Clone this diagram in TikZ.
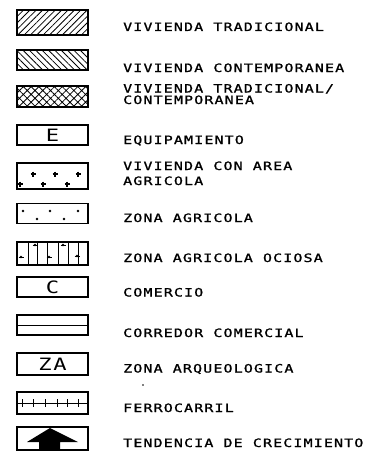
\documentclass[tikz,border=0pt]{standalone}
\usepackage{fontspec}
\usetikzlibrary{patterns.meta}
\newfontfamily\plotfont[FakeStretch=1.3,LetterSpace=10,FakeBold=1.2]{DejaVu Sans Mono}
\newfontfamily\plotbig[FakeStretch=1.3,LetterSpace=10]{DejaVu Sans Mono}

\begin{document}
\begin{tikzpicture}[x=1pt,y=-1pt,
    box/.style={draw,line width=1.1pt,minimum width=71pt,inner sep=0pt},
    lbl/.style={anchor=base west,inner sep=0pt,font=\plotfont\fontsize{11.5}{11.5}\selectfont},
    big/.style={font=\plotbig\fontsize{17}{17}\selectfont}]
    \useasboundingbox (0,0) rectangle (378,460);
    % legend boxes
    \node[box,minimum height=25pt,pattern={Lines[angle=45,distance=4.5pt,line width=0.8pt]}] (trad) at (52.5,22.5) {};
    \node[box,minimum height=20pt,pattern={Lines[angle=-45,distance=4.5pt,line width=0.8pt]}] (cont) at (52.5,60) {};
    \node[box,minimum height=21pt,pattern={Hatch[angle=45,distance=5.5pt,line width=0.8pt]}] (mixta) at (52.5,96.5) {};
    \node[box,minimum height=20pt,big] (equip) at (52.5,135) {E};
    \node[box,minimum height=26pt] (vagr) at (52.5,176) {};
    \node[box,minimum height=20pt] (zagr) at (52.5,213.5) {};
    \node[box,minimum height=23pt] (ocio) at (52.5,253.5) {};
    \node[box,minimum height=20pt,big] (com) at (52.5,287) {C};
    \node[box,minimum height=20pt] (corr) at (52.5,325) {};
    \node[box,minimum height=22pt,big] (arq) at (52.5,364) {ZA};
    \node[box,minimum height=22pt] (ferro) at (52.5,403) {};
    \node[box,minimum height=23pt] (tend) at (52.5,438.5) {};
    % fillings
    \draw[line width=1.8pt] (vagr.north west) -- (vagr.north east);
    \foreach \px/\py in {33/174,55/174,78/174,20/184,43/184,67/184}
        \draw[line width=1.2pt] (\px-2.5,\py) -- (\px+2.5,\py) (\px,\py-2.5) -- (\px,\py+2.5);
    \foreach \px/\py in {23/211,50/211,78/211,37/219,64/219}
        \fill (\px,\py) circle (1.4pt);
    \foreach \px in {28,37,47,58,68,78}
        \draw[line width=0.9pt] (\px,242) -- (\px,265);
    \foreach \px/\py in {21/257,35/245,49/257,63/245,77/256} {
        \draw[line width=1pt] (\px-2.5,\py) -- (\px+2.5,\py);
        \fill (\px,\py) circle (1.4pt);
    }
    \draw[line width=1pt] (corr.west) -- (corr.east);
    \draw[line width=1pt] (ferro.west) -- (ferro.east);
    \foreach \px in {22,33,45,57,67,78}
        \draw[line width=0.8pt] (\px,399) -- (\px,407);
    \fill (50,428) -- (78,442) -- (60,442) -- (60,450) -- (39,450) -- (39,442) -- (27,442) -- cycle;
    \fill (143,385) circle (0.8pt);
    % labels
    \node[lbl] (ltrad) at (123,31) {VIVIENDA TRADICIONAL};
    \node[lbl] (lcont) at (123,72) {VIVIENDA CONTEMPORANEA};
    \node[lbl] (lmixa) at (123,92.5) {VIVIENDA TRADICIONAL/};
    \node[lbl] (lmixb) at (123,104) {CONTEMPORANEA};
    \node[lbl] (lequip) at (123,144) {EQUIPAMIENTO};
    \node[lbl] (lvagra) at (123,170) {VIVIENDA CON AREA};
    \node[lbl] (lvagrb) at (123,185) {AGRICOLA};
    \node[lbl] (lzagr) at (123,222) {ZONA AGRICOLA};
    \node[lbl] (locio) at (123,262) {ZONA AGRICOLA OCIOSA};
    \node[lbl] (lcom) at (123,296.5) {COMERCIO};
    \node[lbl] (lcorr) at (123,337) {CORREDOR COMERCIAL};
    \node[lbl] (larq) at (123,372.5) {ZONA ARQUEOLOGICA};
    \node[lbl] (lferro) at (123,412) {FERROCARRIL};
    \node[lbl] (ltend) at (123,447) {TENDENCIA DE CRECIMIENTO};
\end{tikzpicture}
\end{document}
